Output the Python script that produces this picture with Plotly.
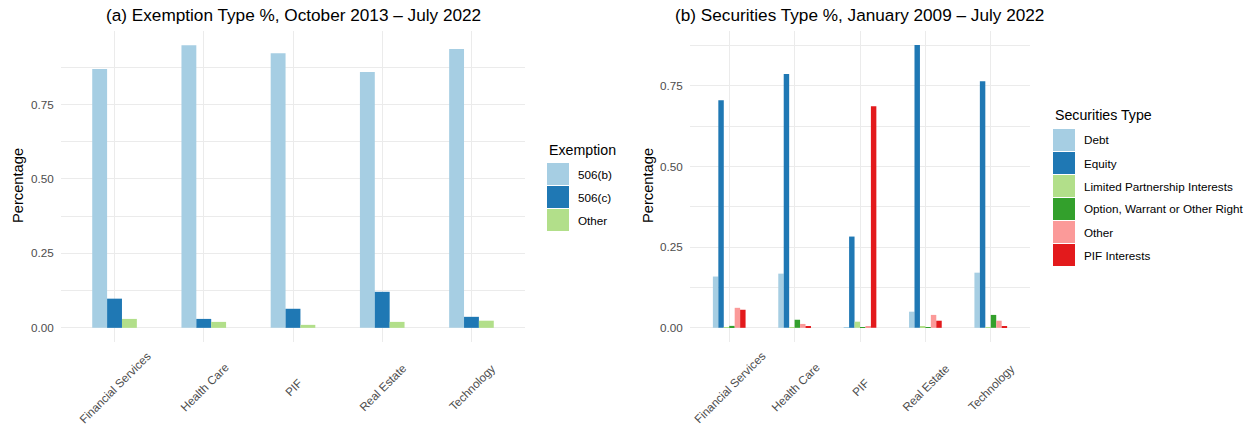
import plotly.graph_objects as go

# ---------------- data ----------------
categories = ["Financial Services", "Health Care", "PIF", "Real Estate", "Technology"]

exemption_labels = ["506(b)", "506(c)", "Other"]
exemption_506b = [0.869, 0.949, 0.922, 0.859, 0.936]
exemption_506c = [0.098, 0.030, 0.064, 0.121, 0.037]
exemption_other = [0.030, 0.020, 0.010, 0.020, 0.024]

securities_labels = ["Debt", "Equity", "Limited Partnership Interests",
                     "Option, Warrant or Other Right", "Other", "PIF Interests"]
sec_debt = [0.159, 0.168, 0.002, 0.050, 0.171]
sec_equity = [0.706, 0.787, 0.283, 0.877, 0.765]
sec_lpi = [0.002, 0.002, 0.019, 0.004, 0.002]
sec_option = [0.006, 0.025, 0.002, 0.002, 0.040]
sec_other = [0.062, 0.012, 0.004, 0.040, 0.022]
sec_pif = [0.056, 0.003, 0.687, 0.022, 0.003]

y_ticks = [0, 0.25, 0.5, 0.75]
y_ticklabels = ["0.00", "0.25", "0.50", "0.75"]

title_a = "(a) Exemption Type %, October 2013 – July 2022"
title_b = "(b) Securities Type %, January 2009 – July 2022"

palette = ["#A6CEE3", "#1F78B4", "#B2DF8A", "#33A02C", "#FB9A99", "#E31A1C"]

# ---------------- layout helpers ----------------
W, H = 1255, 425
FONT = "Liberation Sans, Arial, sans-serif"
GRID = "#EBEBEB"
TICKC = "#4D4D4D"


def px(x):
    return x / W


def py(y):
    return 1 - y / H


fig = go.Figure()

ex_series = [exemption_506b, exemption_506c, exemption_other]
for i, (lab, vals) in enumerate(zip(exemption_labels, ex_series)):
    fig.add_trace(go.Bar(x=categories, y=vals, name=lab, marker_color=palette[i],
                         marker_line_width=0, xaxis="x", yaxis="y", showlegend=False,
                         offsetgroup=str(i)))

sec_series = [sec_debt, sec_equity, sec_lpi, sec_option, sec_other, sec_pif]
for i, (lab, vals) in enumerate(zip(securities_labels, sec_series)):
    fig.add_trace(go.Bar(x=categories, y=vals, name=lab, marker_color=palette[i],
                         marker_line_width=0, xaxis="x2", yaxis="y2", showlegend=False,
                         offsetgroup="s" + str(i)))

ydom = [py(342), py(31)]
common_x = dict(type="category", showgrid=True, gridcolor=GRID, gridwidth=1.1,
                showticklabels=False, ticks="", zeroline=False, showline=False,
                range=[-0.6, 4.6], fixedrange=True)
common_y = dict(showgrid=True, gridcolor=GRID, gridwidth=1.1, zeroline=False,
                showline=False, tickvals=y_ticks, ticktext=y_ticklabels,
                ticks="outside", ticklen=4, tickcolor="rgba(0,0,0,0)",
                tickfont=dict(family=FONT, size=11.7, color=TICKC),
                minor=dict(tickvals=[0.125, 0.375, 0.625, 0.875], showgrid=True,
                           gridcolor=GRID, gridwidth=0.6, ticks=""))

fig.update_layout(
    width=W, height=H, margin=dict(l=0, r=0, t=0, b=0),
    paper_bgcolor="white", plot_bgcolor="white",
    barmode="group", bargap=0.5, bargroupgap=0,
    font=dict(family=FONT, color="black"),
    xaxis=dict(domain=[px(61), px(525)], anchor="y", **common_x),
    yaxis=dict(domain=ydom, anchor="x", range=[-0.0475, 0.9965], **common_y),
    xaxis2=dict(domain=[px(690), px(1030)], anchor="y2", **common_x),
    yaxis2=dict(domain=ydom, anchor="x2", range=[-0.044, 0.9205], **common_y),
)

annotations = []
shapes = []

# titles
annotations.append(dict(text=title_a, x=px(293), y=py(15), xref="paper", yref="paper",
                        xanchor="center", yanchor="middle", showarrow=False,
                        font=dict(family=FONT, size=17.2, color="black")))
annotations.append(dict(text=title_b, x=px(860), y=py(15), xref="paper", yref="paper",
                        xanchor="center", yanchor="middle", showarrow=False,
                        font=dict(family=FONT, size=17.2, color="black")))

# y axis titles
for xc in (18, 648):
    annotations.append(dict(text="Percentage", x=px(xc), y=py(186), xref="paper", yref="paper",
                            xanchor="center", yanchor="middle", showarrow=False, textangle=-90,
                            font=dict(family=FONT, size=14.7, color="black")))

# rotated category labels (centred under each category)
for xr in ("x", "x2"):
    for c in categories:
        annotations.append(dict(text=c, x=c, y=py(387), xref=xr, yref="paper",
                                xanchor="center", yanchor="middle", showarrow=False,
                                textangle=-45,
                                font=dict(family=FONT, size=11.7, color=TICKC)))


def legend(title, labels, x0, title_y, row0, step=23, key=22, text_x=None):
    annotations.append(dict(text=title, x=px(x0), y=py(title_y), xref="paper", yref="paper",
                            xanchor="left", yanchor="middle", showarrow=False,
                            font=dict(family=FONT, size=14.2, color="black")))
    for i, lab in enumerate(labels):
        top = row0 + i * step
        shapes.append(dict(type="rect", xref="paper", yref="paper",
                           x0=px(x0), x1=px(x0 + key), y0=py(top + key), y1=py(top),
                           fillcolor=palette[i], line=dict(width=0)))
        annotations.append(dict(text=lab, x=px(text_x), y=py(top + key / 2), xref="paper",
                                yref="paper", xanchor="left", yanchor="middle",
                                showarrow=False,
                                font=dict(family=FONT, size=11.7, color="black")))


legend("Exemption", exemption_labels, 547, 150, 163, text_x=576)
legend("Securities Type", securities_labels, 1053, 115, 129, text_x=1082)

fig.update_layout(annotations=annotations, shapes=shapes)

fig.write_html("out.html")
